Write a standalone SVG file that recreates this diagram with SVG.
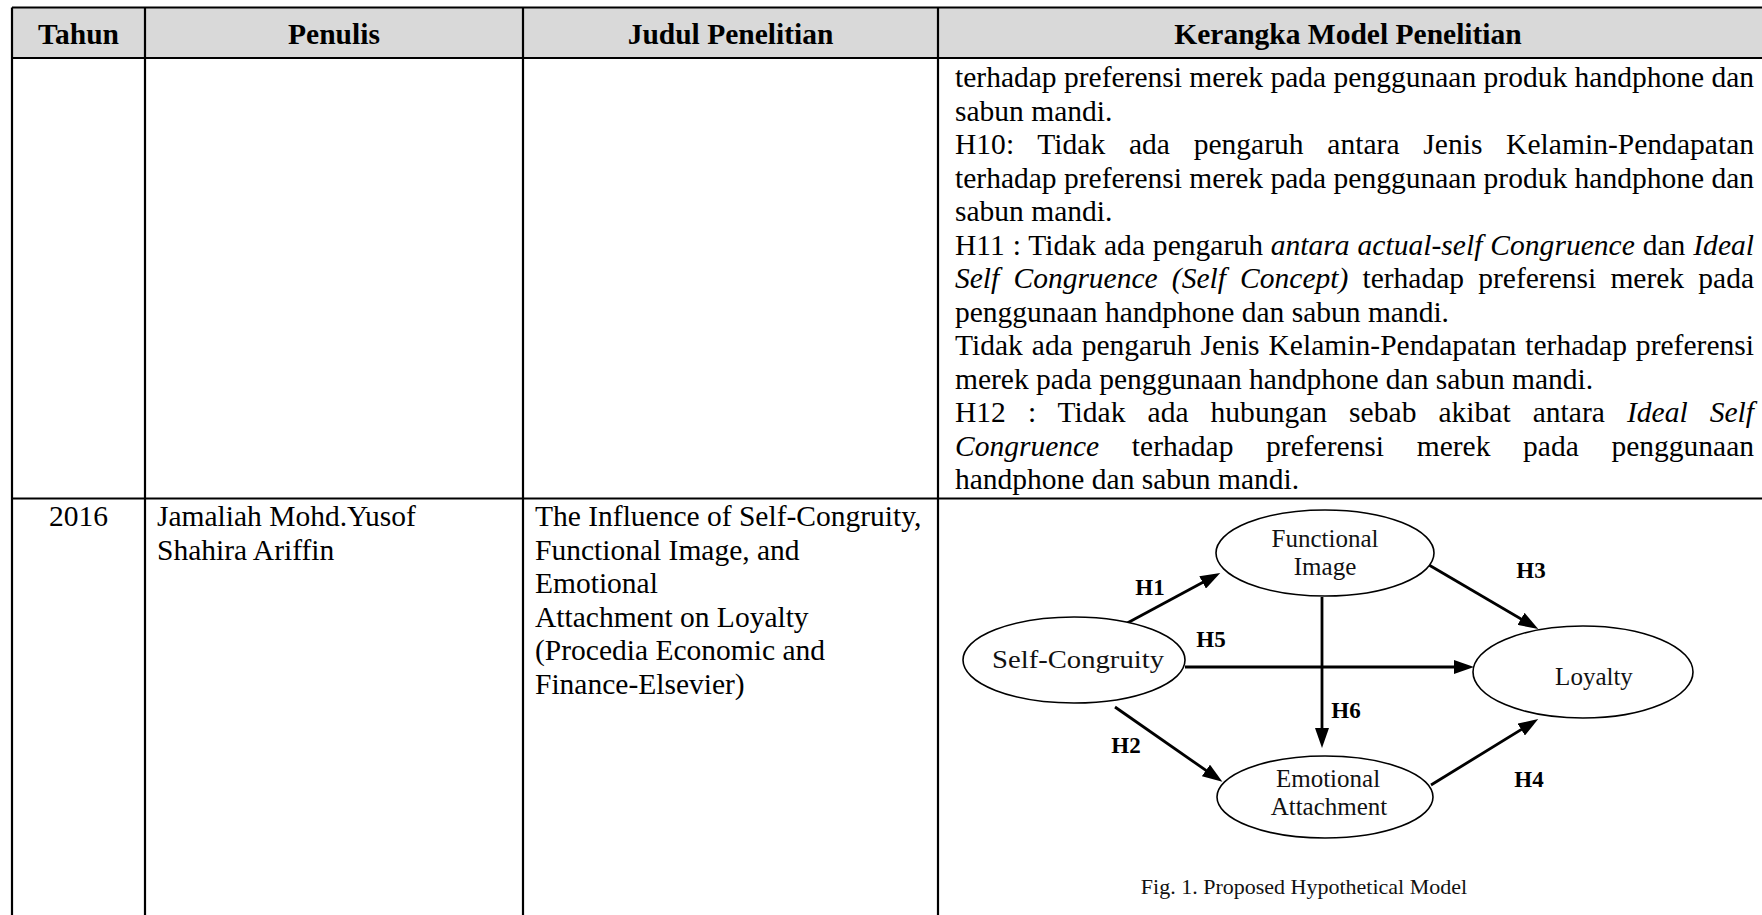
<svg xmlns="http://www.w3.org/2000/svg" width="1762" height="915" viewBox="0 0 1762 915">
  <defs>
    <style>
      .grid { stroke: #000; stroke-width: 2.2; fill: none; }
      .head { font-family: "Liberation Serif", "Times New Roman", serif; font-size: 29.5px; font-weight: bold; fill: #000; text-anchor: middle; }
      .body { font-family: "Liberation Serif", "Times New Roman", serif; font-size: 29.5px; fill: #000; }
      .it { font-style: italic; }
      .node { fill: #fff; stroke: #000; stroke-width: 1.6; }
      .lbl { font-family: "Liberation Serif", "Times New Roman", serif; font-size: 25px; fill: #111; text-anchor: middle; }
      .hyp { font-family: "Liberation Serif", "Times New Roman", serif; font-size: 23px; font-weight: bold; fill: #000; text-anchor: middle; }
      .cap { font-family: "Liberation Serif", "Times New Roman", serif; font-size: 22px; fill: #111; text-anchor: middle; }
      .edge { stroke: #000; stroke-width: 2.8; fill: none; marker-end: url(#arrow); }
    </style>
    <marker id="arrow" viewBox="0 0 20 14" markerWidth="20" markerHeight="14" refX="11" refY="7" orient="auto" markerUnits="userSpaceOnUse">
      <path d="M0,0 L20,7 L0,14 z" fill="#000"/>
    </marker>
  </defs>

  <rect width="1762" height="915" fill="#fff"/>

  <!-- table frame and header band -->
  <g id="table-grid">
    <rect x="12" y="7.5" width="1750" height="50.5" fill="#d9d9d9"/>
    <path class="grid" d="M12,7.5 H1762 M12,58 H1762 M12,498.5 H1762 M12,7.5 V915 M145,7.5 V915 M523,7.5 V915 M938,7.5 V915"/>
  </g>

  <!-- column headings -->
  <g id="header">
    <text class="head" x="78.5" y="44">Tahun</text>
    <text class="head" x="334" y="44">Penulis</text>
    <text class="head" x="730.5" y="44">Judul Penelitian</text>
    <text class="head" x="1348" y="44">Kerangka Model Penelitian</text>
  </g>

  <!-- continued hypotheses from the previous entry -->
  <g id="row1-kerangka" class="body">
    <text x="955" y="87" textLength="799" lengthAdjust="spacing">terhadap preferensi merek pada penggunaan produk handphone dan</text>
    <text x="955" y="120.5">sabun mandi.</text>
    <text x="955" y="154" word-spacing="16.3" textLength="799" lengthAdjust="spacing">H10: Tidak ada pengaruh antara Jenis Kelamin-Pendapatan</text>
    <text x="955" y="187.5" textLength="799" lengthAdjust="spacing">terhadap preferensi merek pada penggunaan produk handphone dan</text>
    <text x="955" y="221">sabun mandi.</text>
    <text x="955" y="254.5" word-spacing="0.4" textLength="799" lengthAdjust="spacing">H11 : Tidak ada pengaruh <tspan class="it">antara actual-self Congruence</tspan> dan <tspan class="it">Ideal</tspan></text>
    <text x="955" y="288" word-spacing="6.8" textLength="799" lengthAdjust="spacing"><tspan class="it">Self Congruence (Self Concept)</tspan> terhadap preferensi merek pada</text>
    <text x="955" y="321.5">penggunaan handphone dan sabun mandi.</text>
    <text x="955" y="355" word-spacing="1.5" textLength="799" lengthAdjust="spacing">Tidak ada pengaruh Jenis Kelamin-Pendapatan terhadap preferensi</text>
    <text x="955" y="388.5">merek pada penggunaan handphone dan sabun mandi.</text>
    <text x="955" y="422" word-spacing="14.6" textLength="799" lengthAdjust="spacing">H12 : Tidak ada hubungan sebab akibat antara <tspan class="it">Ideal Self</tspan></text>
    <text x="955" y="455.5" word-spacing="25.3" textLength="799" lengthAdjust="spacing"><tspan class="it">Congruence</tspan> terhadap preferensi merek pada penggunaan</text>
    <text x="955" y="489">handphone dan sabun mandi.</text>
  </g>

  <!-- 2016 entry -->
  <g id="row2-tahun" class="body">
    <text x="78.5" y="526" text-anchor="middle">2016</text>
  </g>
  <g id="row2-penulis" class="body">
    <text x="157" y="526">Jamaliah Mohd.Yusof</text>
    <text x="157" y="559.5">Shahira Ariffin</text>
  </g>
  <g id="row2-judul" class="body">
    <text x="535" y="526">The Influence of Self-Congruity,</text>
    <text x="535" y="559.5">Functional Image, and</text>
    <text x="535" y="593">Emotional</text>
    <text x="535" y="626.5">Attachment on Loyalty</text>
    <text x="535" y="660">(Procedia Economic and</text>
    <text x="535" y="693.5">Finance-Elsevier)</text>
  </g>

  <!-- hypothetical model: paths between constructs -->
  <g id="connectors">
    <line class="edge" x1="1118" y1="628" x2="1212.3" y2="577.2"/>
    <line class="edge" x1="1429" y1="565" x2="1530.5" y2="624.4"/>
    <line class="edge" x1="1185" y1="667" x2="1465" y2="667"/>
    <line class="edge" x1="1322" y1="597" x2="1322" y2="739"/>
    <line class="edge" x1="1115" y1="707" x2="1215" y2="776.7"/>
    <line class="edge" x1="1431" y1="785" x2="1530.6" y2="723.8"/>
    <text class="hyp" x="1150" y="595">H1</text>
    <text class="hyp" x="1211" y="647">H5</text>
    <text class="hyp" x="1531" y="578">H3</text>
    <text class="hyp" x="1346" y="718">H6</text>
    <text class="hyp" x="1126" y="753">H2</text>
    <text class="hyp" x="1529" y="787">H4</text>
  </g>

  <g id="node-self-congruity">
    <ellipse class="node" cx="1074" cy="660" rx="111" ry="43"/>
    <text class="lbl" x="1078" y="668" textLength="172" lengthAdjust="spacingAndGlyphs">Self-Congruity</text>
  </g>
  <g id="node-functional-image">
    <ellipse class="node" cx="1325" cy="553" rx="109" ry="43"/>
    <text class="lbl" x="1325" y="547">Functional</text>
    <text class="lbl" x="1325" y="575">Image</text>
  </g>
  <g id="node-loyalty">
    <ellipse class="node" cx="1583" cy="672" rx="110" ry="46"/>
    <text class="lbl" x="1594" y="685">Loyalty</text>
  </g>
  <g id="node-emotional-attachment">
    <ellipse class="node" cx="1325" cy="797" rx="108" ry="41"/>
    <text class="lbl" x="1328" y="787">Emotional</text>
    <text class="lbl" x="1329" y="815">Attachment</text>
  </g>

  <g id="caption">
    <text class="cap" x="1304" y="894">Fig. 1. Proposed Hypothetical Model</text>
  </g>
</svg>
